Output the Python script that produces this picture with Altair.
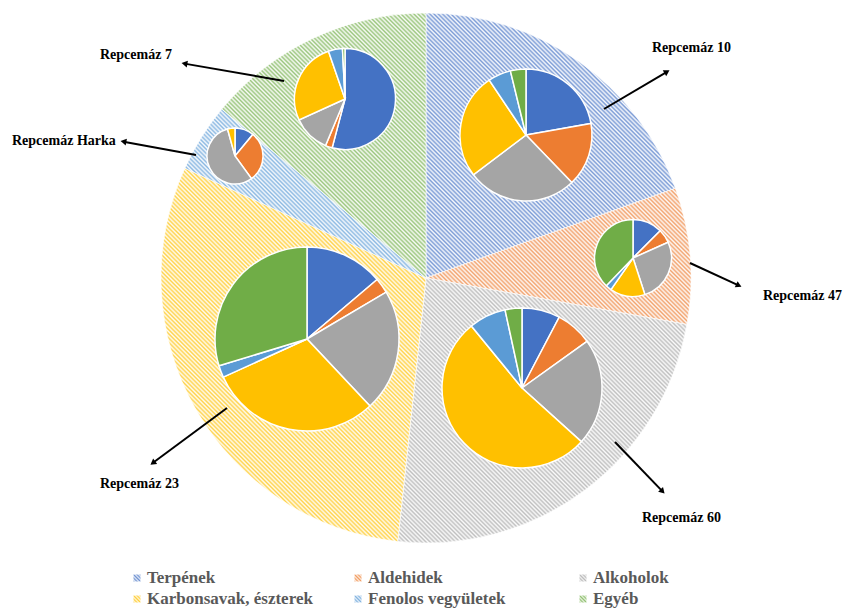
import math
import altair as alt
import pandas as pd

# ---- data -----------------------------------------------------------------
compounds = ["Terpének", "Aldehidek", "Alkoholok",
             "Karbonsavak, észterek", "Fenolos vegyületek", "Egyéb"]
palette = ["#4472C4", "#ED7D31", "#A5A5A5", "#FFC000", "#5B9BD5", "#70AD47"]

samples = ["Repcemáz 10", "Repcemáz 47", "Repcemáz 60",
           "Repcemáz 23", "Repcemáz Harka", "Repcemáz 7"]
sample_share = [19.5, 8.3, 23.9, 30.1, 4.2, 14.0]

# composition of each honey (%), in the order of `compounds`
comp_10 = [22.2, 15.6, 26.9, 25.9, 5.6, 3.8]
comp_47 = [12.5, 5.8, 26.7, 14.7, 2.5, 37.8]
comp_60 = [7.7, 7.4, 21.6, 52.4, 7.5, 3.4]
comp_23 = [13.8, 2.7, 21.5, 30.2, 2.1, 29.7]
comp_harka = [11.0, 29.0, 55.7, 4.3, 0.0, 0.0]
comp_7 = [54.1, 2.2, 11.9, 26.5, 4.5, 0.8]
compositions = [comp_10, comp_47, comp_60, comp_23, comp_harka, comp_7]

# ---- layout (pixels) --------------------------------------------------------
W, H = 843, 608
CX, CY, R = 426, 278, 265
# inset pie centre x, centre y, radius
inset = [(526, 135, 66), (633, 258, 38.5), (522, 388, 80),
         (307, 339, 92), (235, 156, 28), (345, 99, 50.5)]
# callout arrow: start x, start y, tip x, tip y, label x, label y
callout = [(604, 109, 670, 70, 652, 48),
           (690, 263, 742, 287, 763, 296),
           (615, 442, 665, 494, 642, 518),
           (227, 408, 150, 465, 100, 484),
           (196, 155, 120, 141, 12, 141),
           (284, 81, 181, 63, 100, 55)]
legend_col_x = [137, 358, 583]
legend_row_y = [578, 599]
FONT = "Liberation Serif"


def blend(hex_color, t):
    """Mix a colour with white; t=0 keeps the colour, t=1 gives white."""
    r, g, b = (int(hex_color[i:i + 2], 16) for i in (1, 3, 5))
    mix = [round(c + (255 - c) * t) for c in (r, g, b)]
    return "#%02x%02x%02x" % tuple(mix)


def hatch(color, w, h, period=3.0, line_t=0.3, gap_t=0.95):
    """Soft diagonal line pattern built from a repeating linear gradient."""
    a, b = w / (w + h), h / (w + h)
    n = max(2, round(2 * (w * w + h * h) / ((w + h) * math.sqrt(2) * period)))
    line, gap = blend(color, line_t), blend(color, gap_t)
    stops = []
    for k in range(n):
        stops += [{"offset": round(k / n, 5), "color": line},
                  {"offset": round((k + 0.5) / n, 5), "color": gap}]
    stops.append({"offset": 1, "color": line})
    return {"gradient": "linear", "x1": 0.5 - a, "y1": 0.5 + b,
            "x2": 0.5 + a, "y2": 0.5 - b, "stops": stops}


def wedge_size(a0, a1, r):
    pts = [(0.0, 0.0)]
    pt = lambda a: (r * math.sin(a), -r * math.cos(a))
    pts += [pt(a0), pt(a1)]
    for k in range(5):
        a = k * math.pi / 2
        if a0 <= a <= a1:
            pts.append(pt(a))
    xs, ys = zip(*pts)
    return max(xs) - min(xs), max(ys) - min(ys)


# ---- big pie: share of each honey, hatched -----------------------------------
big = pd.DataFrame({"sample": samples, "share": sample_share})
total = big["share"].sum()
big["a1"] = big["share"].cumsum() / total
big["a0"] = big["a1"] - big["share"] / total

layers = []
for i, s in enumerate(samples):
    a0 = big.loc[i, "a0"] * 2 * math.pi
    a1 = big.loc[i, "a1"] * 2 * math.pi
    w, h = wedge_size(a0, a1, R)
    layers.append(
        alt.Chart(big).transform_filter(alt.datum.sample == s)
        .mark_arc(outerRadius=R, fill=hatch(palette[i], w, h),
                  stroke="white", strokeWidth=0.6)
        .encode(x=alt.value(CX), y=alt.value(CY),
                theta=alt.Theta("a0:Q", scale=alt.Scale(domain=[0, 1])),
                theta2="a1:Q")
    )

# ---- inset pies: composition of each honey ----------------------------------
rows = []
for s, comp in zip(samples, compositions):
    for j, (c, v) in enumerate(zip(compounds, comp)):
        rows.append({"sample": s, "compound": c, "idx": j, "value": v})
comp_df = pd.DataFrame(rows)

color = alt.Color("compound:N", scale=alt.Scale(domain=compounds, range=palette),
                  legend=None)
for s, (cx, cy, r) in zip(samples, inset):
    layers.append(
        alt.Chart(comp_df).transform_filter(
            (alt.datum.sample == s) & (alt.datum.value > 0))
        .mark_arc(outerRadius=r, stroke="white", strokeWidth=1.5)
        .encode(x=alt.value(cx), y=alt.value(cy),
                theta=alt.Theta("value:Q", stack=True),
                color=color, order=alt.Order("idx:Q"))
    )

# ---- callout arrows and labels -------------------------------------------------
arr = []
for s, (x0, y0, x1, y1, lx, ly) in zip(samples, callout):
    dx, dy = x1 - x0, y1 - y0
    L = math.hypot(dx, dy)
    ux, uy = dx / L, dy / L
    arr.append({"sample": s, "x": x0, "y": y0,
                "x2": x1 - ux * 5, "y2": y1 - uy * 5,
                "hx": x1 - ux * 3.5, "hy": y1 - uy * 3.5,
                "ang": math.degrees(math.atan2(dx, -dy)) % 360,
                "lx": lx, "ly": ly})
arr_df = pd.DataFrame(arr)

layers.append(
    alt.Chart(arr_df).mark_rule(color="black", strokeWidth=2)
    .encode(x=alt.X("x:Q", scale=None), y=alt.Y("y:Q", scale=None),
            x2="x2:Q", y2="y2:Q")
)
layers.append(
    alt.Chart(arr_df).mark_point(shape="triangle-up", filled=True,
                                 color="black", opacity=1, size=45)
    .encode(x=alt.X("hx:Q", scale=None), y=alt.Y("hy:Q", scale=None),
            angle=alt.Angle("ang:Q", scale=None))
)
layers.append(
    alt.Chart(arr_df).mark_text(font=FONT, fontWeight="bold", fontSize=14,
                                color="black", align="left", baseline="middle")
    .encode(x=alt.X("lx:Q", scale=None), y=alt.Y("ly:Q", scale=None),
            text="sample:N")
)

# ---- legend ---------------------------------------------------------------------
leg = pd.DataFrame({"compound": compounds})
leg["sx"] = [legend_col_x[i % 3] for i in range(6)]
leg["tx"] = leg["sx"] + 10
leg["y"] = [legend_row_y[i // 3] for i in range(6)]

for i, c in enumerate(compounds):
    layers.append(
        alt.Chart(leg).transform_filter(alt.datum.compound == c)
        .mark_square(size=49, opacity=1,
                     fill=hatch(palette[i], 7, 7, period=2.5, line_t=0.25,
                                gap_t=0.85))
        .encode(x=alt.X("sx:Q", scale=None), y=alt.Y("y:Q", scale=None))
    )
layers.append(
    alt.Chart(leg).mark_text(font=FONT, fontWeight="bold", fontSize=17,
                             color="#595959", align="left", baseline="middle")
    .encode(x=alt.X("tx:Q", scale=None), y=alt.Y("y:Q", scale=None),
            text="compound:N")
)

chart = (
    alt.layer(*layers)
    .resolve_scale(theta="independent")
    .properties(width=W, height=H, padding=0,
                autosize=alt.AutoSizeParams(type="none"),
                background="white")
    .configure_view(stroke=None)
)

chart.save("out.html", embed_options={"renderer": "svg", "actions": False})
